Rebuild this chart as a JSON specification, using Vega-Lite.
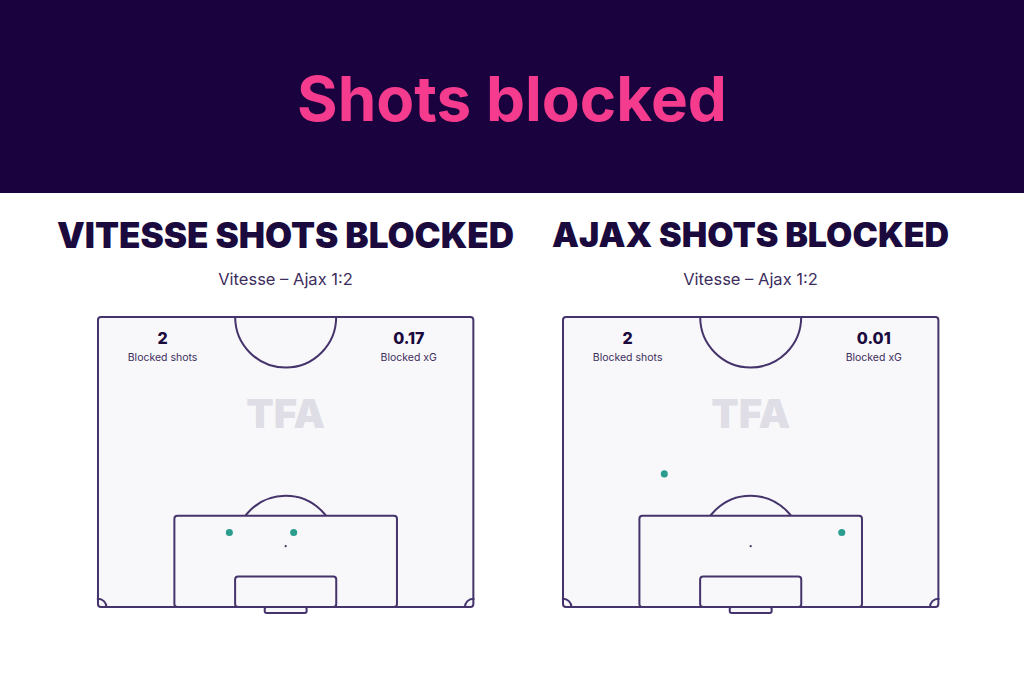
{
  "$schema": "https://vega.github.io/schema/vega-lite/v6.json",
  "padding": 0,
  "background": "white",
  "config": {"view": {"stroke": null}, "font": "Inter"},
  "datasets": {
    "stats": [
      {"team": "Vitesse", "shots": 2, "xg": 0.17},
      {"team": "Ajax", "shots": 2, "xg": 0.01}
    ],
    "shots": [
      {"team": "Vitesse", "x": 23.8, "y": 13.5},
      {"team": "Vitesse", "x": 35.45, "y": 13.5},
      {"team": "Ajax", "x": 18.35, "y": 24.1},
      {"team": "Ajax", "x": 50.5, "y": 13.5}
    ]
  },
  "spacing": 26,
  "vconcat": [
    {
      "width": 1024,
      "height": 193,
      "view": {"fill": "#1a023e", "stroke": null},
      "data": {"values": [{"title": "Shots blocked"}]},
      "mark": {"type": "text", "font": "Inter", "fontSize": 62, "fontWeight": 700, "color": "#f53b8e", "baseline": "middle", "dy": 5},
      "encoding": {"text": {"field": "title"}}
    },
    {
      "spacing": 0,
      "bounds": "flush",
      "hconcat": [
        {
          "width": 512,
          "height": 290,
          "title": {"text": "VITESSE SHOTS BLOCKED", "subtitle": "Vitesse – Ajax 1:2", "anchor": "middle", "dx": 29.5, "font": "Inter", "fontSize": 35, "fontWeight": 900, "color": "#1b0a3e", "subtitleFont": "Inter", "subtitleFontSize": 16.5, "subtitleColor": "#3d2d5c", "subtitlePadding": 17, "offset": 28},
          "data": {"name": "stats"},
          "transform": [{"filter": "datum.team === 'Vitesse'"}],
          "layer": [
            {"mark": {"type": "rect", "fill": "#f8f8fa", "strokeWidth": 0},
             "encoding": {"x": {"datum": 0, "type": "quantitative", "scale": {"domain": [-17.75, 75], "nice": false, "zero": false}, "axis": null}, "x2": {"datum": 68},
                          "y": {"datum": 0, "type": "quantitative", "scale": {"domain": [0, 52.5], "nice": false, "zero": false}, "axis": null}, "y2": {"datum": 52.5}}},
            {"mark": {"type": "point", "shape": "circle", "filled": false, "size": 10200, "stroke": "#45336b", "strokeWidth": 2, "opacity": 1, "clip": true},
             "encoding": {"x": {"datum": 34, "type": "quantitative", "scale": {"domain": [-17.75, 75], "nice": false, "zero": false}, "axis": null},
                          "y": {"datum": 52.5, "type": "quantitative", "scale": {"domain": [0, 52.5], "nice": false, "zero": false}, "axis": null}}},
            {"mark": {"type": "point", "shape": "circle", "filled": false, "size": 280, "stroke": "#45336b", "strokeWidth": 2, "opacity": 1, "clip": true},
             "encoding": {"x": {"datum": 0, "type": "quantitative", "scale": {"domain": [-17.75, 75], "nice": false, "zero": false}, "axis": null},
                          "y": {"datum": 0, "type": "quantitative", "scale": {"domain": [0, 52.5], "nice": false, "zero": false}, "axis": null}}},
            {"mark": {"type": "point", "shape": "circle", "filled": false, "size": 280, "stroke": "#45336b", "strokeWidth": 2, "opacity": 1, "clip": true},
             "encoding": {"x": {"datum": 68, "type": "quantitative", "scale": {"domain": [-17.75, 75], "nice": false, "zero": false}, "axis": null},
                          "y": {"datum": 0, "type": "quantitative", "scale": {"domain": [0, 52.5], "nice": false, "zero": false}, "axis": null}}},
            {"mark": {"type": "point", "shape": "circle", "filled": false, "size": 10200, "stroke": "#45336b", "strokeWidth": 2, "opacity": 1},
             "encoding": {"x": {"datum": 34, "type": "quantitative", "scale": {"domain": [-17.75, 75], "nice": false, "zero": false}, "axis": null},
                          "y": {"datum": 11, "type": "quantitative", "scale": {"domain": [0, 52.5], "nice": false, "zero": false}, "axis": null}}},
            {"mark": {"type": "rect", "fill": "white", "strokeWidth": 0},
             "encoding": {"x": {"datum": -17.75, "type": "quantitative", "scale": {"domain": [-17.75, 75], "nice": false, "zero": false}, "axis": null}, "x2": {"datum": -0.2},
                          "y": {"datum": 0, "type": "quantitative", "scale": {"domain": [0, 52.5], "nice": false, "zero": false}, "axis": null}, "y2": {"datum": 52.5}}},
            {"mark": {"type": "rect", "fill": "white", "strokeWidth": 0},
             "encoding": {"x": {"datum": 68.2, "type": "quantitative", "scale": {"domain": [-17.75, 75], "nice": false, "zero": false}, "axis": null}, "x2": {"datum": 75},
                          "y": {"datum": 0, "type": "quantitative", "scale": {"domain": [0, 52.5], "nice": false, "zero": false}, "axis": null}, "y2": {"datum": 52.5}}},
            {"mark": {"type": "rect", "fill": "#f8f8fa", "stroke": "#45336b", "strokeWidth": 2, "cornerRadius": 3},
             "encoding": {"x": {"datum": 13.84, "type": "quantitative", "scale": {"domain": [-17.75, 75], "nice": false, "zero": false}, "axis": null}, "x2": {"datum": 54.16},
                          "y": {"datum": 0, "type": "quantitative", "scale": {"domain": [0, 52.5], "nice": false, "zero": false}, "axis": null}, "y2": {"datum": 16.5}}},
            {"mark": {"type": "rect", "fill": "#f8f8fa", "stroke": "#45336b", "strokeWidth": 2, "cornerRadius": 3},
             "encoding": {"x": {"datum": 24.84, "type": "quantitative", "scale": {"domain": [-17.75, 75], "nice": false, "zero": false}, "axis": null}, "x2": {"datum": 43.16},
                          "y": {"datum": 0, "type": "quantitative", "scale": {"domain": [0, 52.5], "nice": false, "zero": false}, "axis": null}, "y2": {"datum": 5.5}}},
            {"mark": {"type": "rect", "fill": "#f8f8fa", "stroke": "#45336b", "strokeWidth": 2, "cornerRadius": 2},
             "encoding": {"x": {"datum": 30.2, "type": "quantitative", "scale": {"domain": [-17.75, 75], "nice": false, "zero": false}, "axis": null}, "x2": {"datum": 37.8},
                          "y": {"datum": -1.1, "type": "quantitative", "scale": {"domain": [0, 52.5], "nice": false, "zero": false}, "axis": null}, "y2": {"datum": 0}}},
            {"mark": {"type": "rect", "fill": "transparent", "stroke": "#45336b", "strokeWidth": 2, "cornerRadius": 3},
             "encoding": {"x": {"datum": 0, "type": "quantitative", "scale": {"domain": [-17.75, 75], "nice": false, "zero": false}, "axis": null}, "x2": {"datum": 68},
                          "y": {"datum": 0, "type": "quantitative", "scale": {"domain": [0, 52.5], "nice": false, "zero": false}, "axis": null}, "y2": {"datum": 52.5}}},
            {"mark": {"type": "point", "shape": "circle", "filled": true, "size": 5, "color": "#45336b", "opacity": 1},
             "encoding": {"x": {"datum": 34, "type": "quantitative", "scale": {"domain": [-17.75, 75], "nice": false, "zero": false}, "axis": null},
                          "y": {"datum": 11, "type": "quantitative", "scale": {"domain": [0, 52.5], "nice": false, "zero": false}, "axis": null}}},
            {"mark": {"type": "text", "text": "TFA", "font": "Inter", "fontSize": 40, "fontWeight": 900, "color": "#dfdde5", "baseline": "middle"},
             "encoding": {"x": {"datum": 34, "type": "quantitative", "scale": {"domain": [-17.75, 75], "nice": false, "zero": false}, "axis": null},
                          "y": {"datum": 34.5, "type": "quantitative", "scale": {"domain": [0, 52.5], "nice": false, "zero": false}, "axis": null}}},
            {"mark": {"type": "text", "font": "Inter", "fontSize": 16, "fontWeight": 800, "color": "#1b0a3e", "baseline": "middle"},
             "encoding": {"text": {"field": "shots"}, "x": {"datum": 11.7, "type": "quantitative", "scale": {"domain": [-17.75, 75], "nice": false, "zero": false}, "axis": null},
                          "y": {"datum": 48.5, "type": "quantitative", "scale": {"domain": [0, 52.5], "nice": false, "zero": false}, "axis": null}}},
            {"mark": {"type": "text", "text": "Blocked shots", "font": "Inter", "fontSize": 10.5, "color": "#3d2d5c", "baseline": "middle"},
             "encoding": {"x": {"datum": 11.7, "type": "quantitative", "scale": {"domain": [-17.75, 75], "nice": false, "zero": false}, "axis": null},
                          "y": {"datum": 45.1, "type": "quantitative", "scale": {"domain": [0, 52.5], "nice": false, "zero": false}, "axis": null}}},
            {"mark": {"type": "text", "font": "Inter", "fontSize": 16, "fontWeight": 800, "color": "#1b0a3e", "baseline": "middle"},
             "encoding": {"text": {"field": "xg", "format": ".2f"}, "x": {"datum": 56.3, "type": "quantitative", "scale": {"domain": [-17.75, 75], "nice": false, "zero": false}, "axis": null},
                          "y": {"datum": 48.5, "type": "quantitative", "scale": {"domain": [0, 52.5], "nice": false, "zero": false}, "axis": null}}},
            {"mark": {"type": "text", "text": "Blocked xG", "font": "Inter", "fontSize": 10.5, "color": "#3d2d5c", "baseline": "middle"},
             "encoding": {"x": {"datum": 56.3, "type": "quantitative", "scale": {"domain": [-17.75, 75], "nice": false, "zero": false}, "axis": null},
                          "y": {"datum": 45.1, "type": "quantitative", "scale": {"domain": [0, 52.5], "nice": false, "zero": false}, "axis": null}}},
            {"data": {"name": "shots"},
             "transform": [{"filter": "datum.team === 'Vitesse'"}],
             "mark": {"type": "point", "shape": "circle", "filled": true, "size": 50, "color": "#2a9d8f", "opacity": 1},
             "encoding": {"x": {"field": "x", "type": "quantitative", "scale": {"domain": [-17.75, 75], "nice": false, "zero": false}, "axis": null},
                          "y": {"field": "y", "type": "quantitative", "scale": {"domain": [0, 52.5], "nice": false, "zero": false}, "axis": null}}}
          ]
        },
        {
          "width": 512,
          "height": 290,
          "title": {"text": "AJAX SHOTS BLOCKED", "subtitle": "Vitesse – Ajax 1:2", "anchor": "middle", "dx": -17.5, "font": "Inter", "fontSize": 34, "fontWeight": 900, "color": "#1b0a3e", "subtitleFont": "Inter", "subtitleFontSize": 16.5, "subtitleColor": "#3d2d5c", "subtitlePadding": 17.5, "offset": 28},
          "data": {"name": "stats"},
          "transform": [{"filter": "datum.team === 'Ajax'"}],
          "layer": [
            {"mark": {"type": "rect", "fill": "#f8f8fa", "strokeWidth": 0},
             "encoding": {"x": {"datum": 0, "type": "quantitative", "scale": {"domain": [-9.24, 83.51], "nice": false, "zero": false}, "axis": null}, "x2": {"datum": 68},
                          "y": {"datum": 0, "type": "quantitative", "scale": {"domain": [0, 52.5], "nice": false, "zero": false}, "axis": null}, "y2": {"datum": 52.5}}},
            {"mark": {"type": "point", "shape": "circle", "filled": false, "size": 10200, "stroke": "#45336b", "strokeWidth": 2, "opacity": 1, "clip": true},
             "encoding": {"x": {"datum": 34, "type": "quantitative", "scale": {"domain": [-9.24, 83.51], "nice": false, "zero": false}, "axis": null},
                          "y": {"datum": 52.5, "type": "quantitative", "scale": {"domain": [0, 52.5], "nice": false, "zero": false}, "axis": null}}},
            {"mark": {"type": "point", "shape": "circle", "filled": false, "size": 280, "stroke": "#45336b", "strokeWidth": 2, "opacity": 1, "clip": true},
             "encoding": {"x": {"datum": 0, "type": "quantitative", "scale": {"domain": [-9.24, 83.51], "nice": false, "zero": false}, "axis": null},
                          "y": {"datum": 0, "type": "quantitative", "scale": {"domain": [0, 52.5], "nice": false, "zero": false}, "axis": null}}},
            {"mark": {"type": "point", "shape": "circle", "filled": false, "size": 280, "stroke": "#45336b", "strokeWidth": 2, "opacity": 1, "clip": true},
             "encoding": {"x": {"datum": 68, "type": "quantitative", "scale": {"domain": [-9.24, 83.51], "nice": false, "zero": false}, "axis": null},
                          "y": {"datum": 0, "type": "quantitative", "scale": {"domain": [0, 52.5], "nice": false, "zero": false}, "axis": null}}},
            {"mark": {"type": "point", "shape": "circle", "filled": false, "size": 10200, "stroke": "#45336b", "strokeWidth": 2, "opacity": 1},
             "encoding": {"x": {"datum": 34, "type": "quantitative", "scale": {"domain": [-9.24, 83.51], "nice": false, "zero": false}, "axis": null},
                          "y": {"datum": 11, "type": "quantitative", "scale": {"domain": [0, 52.5], "nice": false, "zero": false}, "axis": null}}},
            {"mark": {"type": "rect", "fill": "white", "strokeWidth": 0},
             "encoding": {"x": {"datum": -9.24, "type": "quantitative", "scale": {"domain": [-9.24, 83.51], "nice": false, "zero": false}, "axis": null}, "x2": {"datum": -0.2},
                          "y": {"datum": 0, "type": "quantitative", "scale": {"domain": [0, 52.5], "nice": false, "zero": false}, "axis": null}, "y2": {"datum": 52.5}}},
            {"mark": {"type": "rect", "fill": "white", "strokeWidth": 0},
             "encoding": {"x": {"datum": 68.2, "type": "quantitative", "scale": {"domain": [-9.24, 83.51], "nice": false, "zero": false}, "axis": null}, "x2": {"datum": 83.51},
                          "y": {"datum": 0, "type": "quantitative", "scale": {"domain": [0, 52.5], "nice": false, "zero": false}, "axis": null}, "y2": {"datum": 52.5}}},
            {"mark": {"type": "rect", "fill": "#f8f8fa", "stroke": "#45336b", "strokeWidth": 2, "cornerRadius": 3},
             "encoding": {"x": {"datum": 13.84, "type": "quantitative", "scale": {"domain": [-9.24, 83.51], "nice": false, "zero": false}, "axis": null}, "x2": {"datum": 54.16},
                          "y": {"datum": 0, "type": "quantitative", "scale": {"domain": [0, 52.5], "nice": false, "zero": false}, "axis": null}, "y2": {"datum": 16.5}}},
            {"mark": {"type": "rect", "fill": "#f8f8fa", "stroke": "#45336b", "strokeWidth": 2, "cornerRadius": 3},
             "encoding": {"x": {"datum": 24.84, "type": "quantitative", "scale": {"domain": [-9.24, 83.51], "nice": false, "zero": false}, "axis": null}, "x2": {"datum": 43.16},
                          "y": {"datum": 0, "type": "quantitative", "scale": {"domain": [0, 52.5], "nice": false, "zero": false}, "axis": null}, "y2": {"datum": 5.5}}},
            {"mark": {"type": "rect", "fill": "#f8f8fa", "stroke": "#45336b", "strokeWidth": 2, "cornerRadius": 2},
             "encoding": {"x": {"datum": 30.2, "type": "quantitative", "scale": {"domain": [-9.24, 83.51], "nice": false, "zero": false}, "axis": null}, "x2": {"datum": 37.8},
                          "y": {"datum": -1.1, "type": "quantitative", "scale": {"domain": [0, 52.5], "nice": false, "zero": false}, "axis": null}, "y2": {"datum": 0}}},
            {"mark": {"type": "rect", "fill": "transparent", "stroke": "#45336b", "strokeWidth": 2, "cornerRadius": 3},
             "encoding": {"x": {"datum": 0, "type": "quantitative", "scale": {"domain": [-9.24, 83.51], "nice": false, "zero": false}, "axis": null}, "x2": {"datum": 68},
                          "y": {"datum": 0, "type": "quantitative", "scale": {"domain": [0, 52.5], "nice": false, "zero": false}, "axis": null}, "y2": {"datum": 52.5}}},
            {"mark": {"type": "point", "shape": "circle", "filled": true, "size": 5, "color": "#45336b", "opacity": 1},
             "encoding": {"x": {"datum": 34, "type": "quantitative", "scale": {"domain": [-9.24, 83.51], "nice": false, "zero": false}, "axis": null},
                          "y": {"datum": 11, "type": "quantitative", "scale": {"domain": [0, 52.5], "nice": false, "zero": false}, "axis": null}}},
            {"mark": {"type": "text", "text": "TFA", "font": "Inter", "fontSize": 40, "fontWeight": 900, "color": "#dfdde5", "baseline": "middle"},
             "encoding": {"x": {"datum": 34, "type": "quantitative", "scale": {"domain": [-9.24, 83.51], "nice": false, "zero": false}, "axis": null},
                          "y": {"datum": 34.5, "type": "quantitative", "scale": {"domain": [0, 52.5], "nice": false, "zero": false}, "axis": null}}},
            {"mark": {"type": "text", "font": "Inter", "fontSize": 16, "fontWeight": 800, "color": "#1b0a3e", "baseline": "middle"},
             "encoding": {"text": {"field": "shots"}, "x": {"datum": 11.7, "type": "quantitative", "scale": {"domain": [-9.24, 83.51], "nice": false, "zero": false}, "axis": null},
                          "y": {"datum": 48.5, "type": "quantitative", "scale": {"domain": [0, 52.5], "nice": false, "zero": false}, "axis": null}}},
            {"mark": {"type": "text", "text": "Blocked shots", "font": "Inter", "fontSize": 10.5, "color": "#3d2d5c", "baseline": "middle"},
             "encoding": {"x": {"datum": 11.7, "type": "quantitative", "scale": {"domain": [-9.24, 83.51], "nice": false, "zero": false}, "axis": null},
                          "y": {"datum": 45.1, "type": "quantitative", "scale": {"domain": [0, 52.5], "nice": false, "zero": false}, "axis": null}}},
            {"mark": {"type": "text", "font": "Inter", "fontSize": 16, "fontWeight": 800, "color": "#1b0a3e", "baseline": "middle"},
             "encoding": {"text": {"field": "xg", "format": ".2f"}, "x": {"datum": 56.3, "type": "quantitative", "scale": {"domain": [-9.24, 83.51], "nice": false, "zero": false}, "axis": null},
                          "y": {"datum": 48.5, "type": "quantitative", "scale": {"domain": [0, 52.5], "nice": false, "zero": false}, "axis": null}}},
            {"mark": {"type": "text", "text": "Blocked xG", "font": "Inter", "fontSize": 10.5, "color": "#3d2d5c", "baseline": "middle"},
             "encoding": {"x": {"datum": 56.3, "type": "quantitative", "scale": {"domain": [-9.24, 83.51], "nice": false, "zero": false}, "axis": null},
                          "y": {"datum": 45.1, "type": "quantitative", "scale": {"domain": [0, 52.5], "nice": false, "zero": false}, "axis": null}}},
            {"data": {"name": "shots"},
             "transform": [{"filter": "datum.team === 'Ajax'"}],
             "mark": {"type": "point", "shape": "circle", "filled": true, "size": 50, "color": "#2a9d8f", "opacity": 1},
             "encoding": {"x": {"field": "x", "type": "quantitative", "scale": {"domain": [-9.24, 83.51], "nice": false, "zero": false}, "axis": null},
                          "y": {"field": "y", "type": "quantitative", "scale": {"domain": [0, 52.5], "nice": false, "zero": false}, "axis": null}}}
          ]
        }
      ]
    }
  ]
}
